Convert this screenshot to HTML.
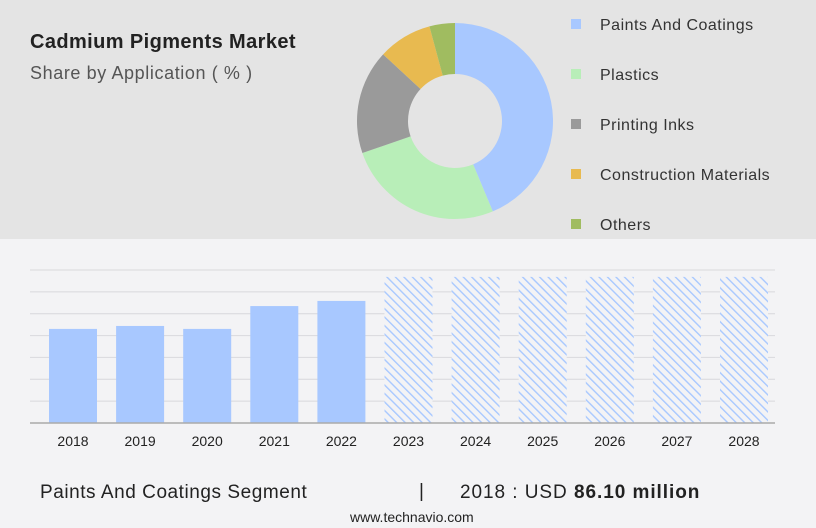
<!DOCTYPE html>
<html><head><meta charset="utf-8"><style>
body{margin:0;width:816px;height:528px;background:#f3f3f5;font-family:"Liberation Sans",sans-serif;position:relative;overflow:hidden}
#top{position:absolute;left:0;top:0;width:816px;height:239px;background:#e4e4e4}
.t{position:absolute;white-space:nowrap}
</style></head><body>
<div id="top"></div>
<div class="t" style="left:30px;top:31px;font-size:20px;font-weight:bold;color:#222;letter-spacing:0.4px">Cadmium Pigments Market</div>
<div class="t" style="left:30px;top:63px;font-size:18px;color:#555;letter-spacing:0.6px">Share by Application ( % )</div>
<svg id="donut" style="position:absolute;left:0;top:0" width="816" height="239"></svg>
<svg id="bars" style="position:absolute;left:0;top:239px" width="816" height="230">
<defs><pattern id="hatch" patternUnits="userSpaceOnUse" width="6" height="6" patternTransform="rotate(-45)"><rect width="6" height="6" fill="#f3f3f5"/><rect x="0" y="0" width="1.4" height="6" fill="#a8c8ff"/></pattern></defs>
</svg>
<div class="t" style="left:40px;top:482px;font-size:19px;color:#222;letter-spacing:0.55px">Paints And Coatings Segment</div>
<div class="t" style="left:419px;top:481px;font-size:19px;color:#222">|</div>
<div class="t" style="left:460px;top:482px;font-size:19px;color:#222;letter-spacing:0.95px">2018 : USD <b>86.10 million</b></div>
<div class="t" style="left:350px;top:509px;font-size:14px;color:#222">www.technavio.com</div>
<script>
const NS='http://www.w3.org/2000/svg';
const segNames=['Paints And Coatings','Plastics','Printing Inks','Construction Materials','Others'];
const segShares=[43.7,26.0,17.2,8.9,4.2];
const segColors=['#a8c8ff','#b8eeb8','#9a9a9a','#e8ba50','#a0bc60'];
const years=['2018','2019','2020','2021','2022','2023','2024','2025','2026','2027','2028'];
const values=[86.1,88.8,86.1,107,111.7,133.7,133.7,133.7,133.7,133.7,133.7];
const forecast=[false,false,false,false,false,true,true,true,true,true,true];
const yMax=140, yStep=20;
function mk(tag,attrs,parent){const e=document.createElementNS(NS,tag);for(const k in attrs)e.setAttribute(k,attrs[k]);parent.appendChild(e);return e;}
const d=document.getElementById('donut');
const cx=455,cy=121,R=98,r=47;let tot=segShares.reduce((a,b)=>a+b,0);let a0=0;
function pt(a,rad){return [cx+rad*Math.sin(a),cy-rad*Math.cos(a)];}
segShares.forEach((v,i)=>{const a1=a0+v/tot*2*Math.PI;const lg=(a1-a0)>Math.PI?1:0;
const p1=pt(a0,R),p2=pt(a1,R),p3=pt(a1,r),p4=pt(a0,r);
const p=mk('path',{d:`M${p1}A${R},${R} 0 ${lg} 1 ${p2}L${p3}A${r},${r} 0 ${lg} 0 ${p4}Z`,fill:segColors[i]},d);


a0=a1;
const y=24+i*50;
const sq=mk('rect',{x:571,y:y-5,width:10,height:10,fill:segColors[i]},d);


const t=mk('text',{x:600,y:y+6,'font-size':16,fill:'#333','letter-spacing':0.5,'font-family':'Liberation Sans, sans-serif'},d);t.textContent=segNames[i];


});
const b=document.getElementById('bars');
const base=184,top_=31;const ys=v=>base-(v/yMax)*(base-top_);
for(let v=yStep;v<=yMax;v+=yStep){const g=mk('line',{x1:30,x2:775,y1:ys(v),y2:ys(v),stroke:'#d8d8dc','stroke-width':1},b);

}
const x0=49,pitch=67.1,bw=48;
years.forEach((yr,i)=>{const x=x0+i*pitch;
const rc=mk('rect',{x:x,y:ys(values[i]),width:bw,height:base-ys(values[i]),fill:forecast[i]?'url(#hatch)':'#a8c8ff'},b);


const t=mk('text',{x:x+bw/2,y:207,'text-anchor':'middle','font-size':14,fill:'#222','font-family':'Liberation Sans, sans-serif'},b);t.textContent=yr;


});
const ax=mk('line',{x1:30,x2:775,y1:base,y2:base,stroke:'#aaa','stroke-width':1.5},b);


</script>
</body></html>
